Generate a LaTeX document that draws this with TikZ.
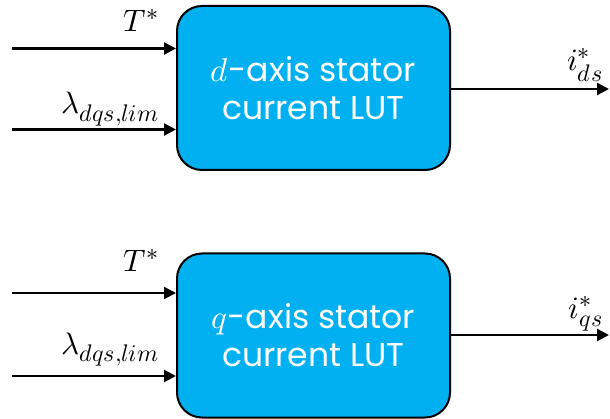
\documentclass[tikz,border=0pt]{standalone}
\usepackage{fontspec}
\setmainfont{Poppins}
\usepackage{unicode-math}
\setmathfont{Latin Modern Math}
\DeclareMathSizes{31}{31}{24}{19}
\usetikzlibrary{arrows.meta, % for triangle tips
                positioning}
\definecolor{lutblue}{RGB}{0,176,240}

\begin{document}
\begin{tikzpicture}[x=1pt, y=-1pt,
    LUT/.style={draw, line width=2pt, rounded corners=25pt, fill=lutblue,
                text=white, minimum width=273pt, minimum height=164pt,
                align=center, font=\fontsize{33}{38}\selectfont},
    sig/.style={line width=2.2pt, -{Triangle[length=12pt,width=12pt]}},
    sigtext/.style={inner sep=0pt, anchor=base east, font=\fontsize{31}{31}\selectfont}
    ]
    \useasboundingbox (0,0) rectangle (610,419);

    %LUT blocks
    \node[LUT] at (313.5,88)    (dLUT){$d$-axis stator\\current LUT};
    \node[LUT] at (313.5,335.5) (qLUT){$q$-axis stator\\current LUT};

    %input ends
    \coordinate (dTin)   at (12,48.5);
    \coordinate (dLamin) at (12,129.5);
    \coordinate (qTin)   at (12,293);
    \coordinate (qLamin) at (12,376);
    %output ends
    \coordinate (dout) at (609,89);
    \coordinate (qout) at (609,335);

    \draw[sig] (dTin)   -- (dTin -| dLUT.west);
    \draw[sig] (dLamin) -- (dLamin -| dLUT.west);
    \draw[sig] (qTin)   -- (qTin -| qLUT.west);
    \draw[sig] (qLamin) -- (qLamin -| qLUT.west);
    \draw[sig] (dout -| dLUT.east) -- (dout);
    \draw[sig] (qout -| qLUT.east) -- (qout);

    %signal labels
    \node[sigtext] at (159,32)  (dT){$T^{*}$};
    \node[sigtext] at (159,114) (dLam){$\lambda_{dqs,lim}$};
    \node[sigtext] at (159,272) (qT){$T^{*}$};
    \node[sigtext] at (159,354) (qLam){$\lambda_{dqs,lim}$};
    \node[sigtext] at (603,71)  (did){$i_{ds}^{*}$};
    \node[sigtext] at (603,319) (qiq){$i_{qs}^{*}$};
\end{tikzpicture}
\end{document}
